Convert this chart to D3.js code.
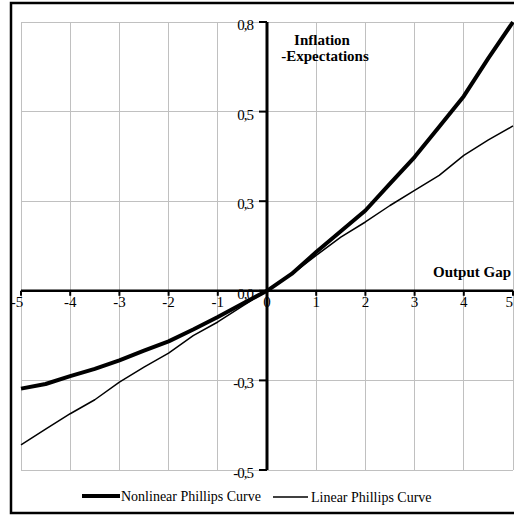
<!DOCTYPE html>
<html>
<head>
<meta charset="utf-8">
<script src="https://cdn.jsdelivr.net/npm/d3@7"></script>
<style>
  html, body { margin: 0; padding: 0; background: #fff; }
  svg { display: block; }
  text { font-family: "Liberation Serif", "Times New Roman", serif; fill: #000; }
</style>
</head>
<body>
<script>
// ---- Data ----
const outputGap = [-5, -4.5, -4, -3.5, -3, -2.5, -2, -1.5, -1, -0.5, 0, 0.5, 1, 1.5, 2, 2.5, 3, 3.5, 4, 4.5, 5];
const nonlinearPC = [-0.273, -0.26, -0.238, -0.218, -0.194, -0.167, -0.141, -0.108, -0.073, -0.036, 0,
                     0.047, 0.108, 0.166, 0.224, 0.299, 0.373, 0.458, 0.543, 0.649, 0.75];
const linearPC = [-0.43, -0.386, -0.343, -0.304, -0.255, -0.213, -0.174, -0.125, -0.087, -0.043, 0,
                  0.046, 0.099, 0.15, 0.192, 0.238, 0.28, 0.322, 0.378, 0.421, 0.46];
const xTicks = [-5, -4, -3, -2, -1, 0, 1, 2, 3, 4, 5];
const xTickLabels = ["-5", "-4", "-3", "-2", "-1", "0", "1", "2", "3", "4", "5"];
const yTicks = [-0.5, -0.25, 0, 0.25, 0.5, 0.75];
const yTickLabels = ["-0,5", "-0,3", "0,0", "0,3", "0,5", "0,8"];
const seriesNames = ["Nonlinear Phillips Curve", "Linear Phillips Curve"];

// ---- Layout ----
const W = 514, H = 517;
const svg = d3.select("body").append("svg").attr("width", W).attr("height", H);

const x = d3.scaleLinear().domain([-5, 5]).range([21, 513]);
const y = d3.scaleLinear().domain([-0.5, 0.75]).range([470, 22]);
const x0 = x(0), y0 = y(0);

// outer frame
svg.append("rect").attr("x", 11).attr("y", 3).attr("width", 512).attr("height", 510)
  .attr("fill", "none").attr("stroke", "#000").attr("stroke-width", 2.5);

// gridlines
const grid = svg.append("g");
grid.selectAll("line.v").data(xTicks).join("line")
  .attr("x1", d => x(d)).attr("x2", d => x(d))
  .attr("y1", y(0.75)).attr("y2", y(-0.5))
  .attr("stroke", "#c0c0c0").attr("stroke-width", 1).attr("shape-rendering", "crispEdges");
grid.selectAll("line.h").data(yTicks).join("line")
  .attr("x1", x(-5)).attr("x2", x(5))
  .attr("y1", d => y(d)).attr("y2", d => y(d))
  .attr("stroke", "#c0c0c0").attr("stroke-width", 1).attr("shape-rendering", "crispEdges");

// axes lines
svg.append("line").attr("x1", x(-5)).attr("x2", x(5)).attr("y1", y0).attr("y2", y0)
  .attr("stroke", "#000").attr("stroke-width", 2.5);
svg.append("line").attr("x1", x0).attr("x2", x0).attr("y1", y(0.75)).attr("y2", y(-0.5))
  .attr("stroke", "#000").attr("stroke-width", 3);

// x ticks
svg.append("g").selectAll("line").data(xTicks).join("line")
  .attr("x1", d => x(d)).attr("x2", d => x(d))
  .attr("y1", y0).attr("y2", y0 + 5)
  .attr("stroke", "#000").attr("stroke-width", 2);
svg.append("g").selectAll("text").data(xTicks).join("text")
  .attr("x", (d, i) => i === xTicks.length - 1 ? x(d) : x(d) - (i === 0 ? 4 : 0))
  .attr("y", y0 + 16)
  .attr("text-anchor", (d, i) => i === xTicks.length - 1 ? "end" : "middle")
  .attr("font-size", 15)
  .text((d, i) => xTickLabels[i]);

// y ticks
svg.append("g").selectAll("line").data(yTicks).join("line")
  .attr("x1", x0 - 8).attr("x2", x0)
  .attr("y1", d => y(d)).attr("y2", d => y(d))
  .attr("stroke", "#000").attr("stroke-width", 2);
svg.append("g").selectAll("text").data(yTicks).join("text")
  .attr("x", x0 - 14).attr("y", d => y(d) + 8)
  .attr("text-anchor", "end").attr("font-size", 15).attr("letter-spacing", -1)
  .text((d, i) => yTickLabels[i]);

// lines
const data1 = outputGap.map((g, i) => [g, nonlinearPC[i]]);
const data2 = outputGap.map((g, i) => [g, linearPC[i]]);
const line = d3.line().x(d => x(d[0])).y(d => y(d[1]));
svg.append("path").attr("d", line(data2)).attr("fill", "none")
  .attr("stroke", "#000").attr("stroke-width", 1.5).attr("stroke-linejoin", "round");
svg.append("path").attr("d", line(data1)).attr("fill", "none")
  .attr("stroke", "#000").attr("stroke-width", 4).attr("stroke-linejoin", "round");

// titles
svg.append("text").attr("x", 322).attr("y", 45).attr("text-anchor", "middle")
  .attr("font-size", 15).attr("font-weight", "bold").text("Inflation");
svg.append("text").attr("x", 325).attr("y", 61).attr("text-anchor", "middle")
  .attr("font-size", 15).attr("font-weight", "bold").text("-Expectations");
svg.append("text").attr("x", 511).attr("y", 277).attr("text-anchor", "end")
  .attr("font-size", 15).attr("font-weight", "bold").text("Output Gap");

// legend
const lg = svg.append("g");
lg.append("line").attr("x1", 82).attr("x2", 120).attr("y1", 496).attr("y2", 496)
  .attr("stroke", "#000").attr("stroke-width", 4);
lg.append("text").attr("x", 121).attr("y", 501).attr("font-size", 14).text(seriesNames[0]);
lg.append("line").attr("x1", 273).attr("x2", 308).attr("y1", 497).attr("y2", 497)
  .attr("stroke", "#000").attr("stroke-width", 1.5);
lg.append("text").attr("x", 311).attr("y", 502).attr("font-size", 14).text(seriesNames[1]);
</script>
</body>
</html>
